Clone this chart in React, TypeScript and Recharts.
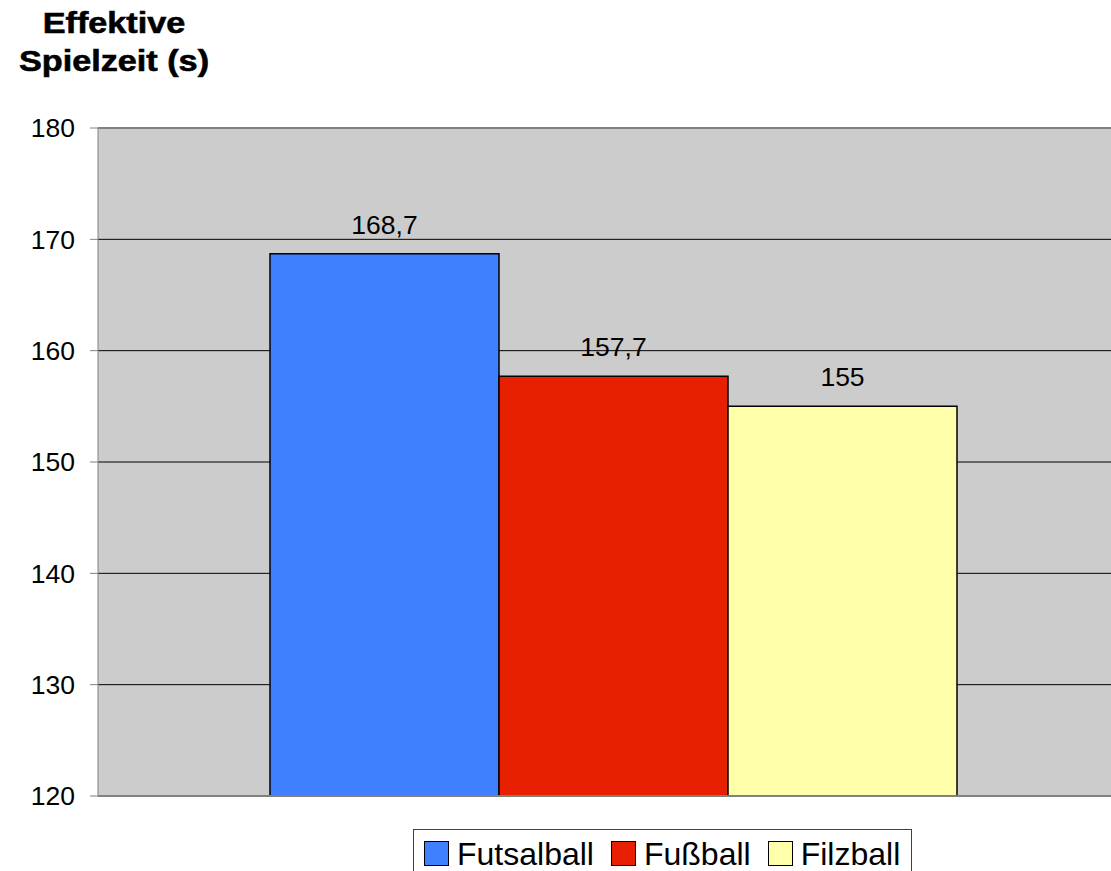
import React from "react";
import {
  Bar,
  BarChart,
  CartesianGrid,
  LabelList,
  ReferenceLine,
  XAxis,
  YAxis,
} from "recharts";

// series shown in the legend, in order
const SERIES_KEYS = ["futsal", "fussball", "filz"];
const SERIES_NAMES = ["Futsalball", "Fußball", "Filzball"];
const SERIES_VALUES = [168.7, 157.7, 155];
const SERIES_COLORS = ["#4080FF", "#E62000", "#FFFFAA"];

const Y_TICKS = [120, 130, 140, 150, 160, 170, 180];
const TITLE_LINES = ["Effektive", "Spielzeit (s)"];

const FONT = '"Liberation Sans", Arial, sans-serif';

export default function App() {
  const row: Record<string, string | number> = { name: "" };
  SERIES_KEYS.forEach((k, i) => {
    row[k] = SERIES_VALUES[i];
  });
  const data = [row];

  return (
    <div
      style={{
        position: "absolute",
        left: 0,
        top: 0,
        width: 1111,
        height: 871,
        overflow: "hidden",
        background: "#fff",
        fontFamily: FONT,
      }}
    >
      <BarChart
        width={1131}
        height={871}
        data={data}
        margin={{ top: 128, right: 1, left: 0, bottom: 75 }}
        barCategoryGap={172}
        barGap={0}
      >
        <CartesianGrid
          vertical={false}
          fill="#CCCCCC"
          fillOpacity={1}
          stroke="#000"
          strokeWidth={1}
        />
        <XAxis dataKey="name" hide />
        <YAxis
          width={98}
          domain={[120, 180]}
          ticks={Y_TICKS}
          allowDataOverflow
          interval={0}
          stroke="#808080"
          tickSize={8}
          tickMargin={15}
          tick={{ fill: "#000", fontSize: 26.5, fontFamily: FONT }}
        />
        {SERIES_KEYS.map((k, i) => (
          <Bar
            key={k}
            dataKey={k}
            name={SERIES_NAMES[i]}
            fill={SERIES_COLORS[i]}
            stroke="#000"
            strokeWidth={1.5}
            isAnimationActive={false}
          >
            <LabelList
              dataKey={k}
              position="top"
              offset={20}
              fill="#000"
              fontSize={26.5}
              fontFamily={FONT}
              formatter={(v: any) => String(v).replace(".", ",")}
            />
          </Bar>
        ))}
        <ReferenceLine y={180} stroke="#808080" strokeWidth={2} />
        <ReferenceLine y={120} stroke="#808080" strokeWidth={2} />
      </BarChart>

      <svg
        width={260}
        height={90}
        style={{ position: "absolute", left: 0, top: 0 }}
      >
        {TITLE_LINES.map((t, i) => (
          <text
            key={t}
            x={0}
            y={0}
            transform={`translate(114, ${33 + i * 38}) scale(1.18, 1)`}
            textAnchor="middle"
            fontSize={29}
            fontWeight="bold"
            fontFamily={FONT}
            fill="#000"
            stroke="#000"
            strokeWidth={0.6}
          >
            {t}
          </text>
        ))}
      </svg>

      <div
        style={{
          position: "absolute",
          left: 413,
          top: 829,
          width: 499,
          height: 49,
          border: "1px solid #404040",
          boxSizing: "border-box",
          display: "flex",
          alignItems: "center",
          paddingLeft: 10,
          background: "#fff",
        }}
      >
        {SERIES_NAMES.map((n, i) => (
          <div
            key={n}
            style={{ display: "flex", alignItems: "center", marginRight: 17 }}
          >
            <div
              style={{
                width: 25,
                height: 25,
                background: SERIES_COLORS[i],
                border: "1px solid #000",
                boxSizing: "border-box",
                marginRight: 8,
              }}
            />
            <span style={{ fontSize: 32, lineHeight: 1, color: "#000" }}>
              {n}
            </span>
          </div>
        ))}
      </div>
    </div>
  );
}
